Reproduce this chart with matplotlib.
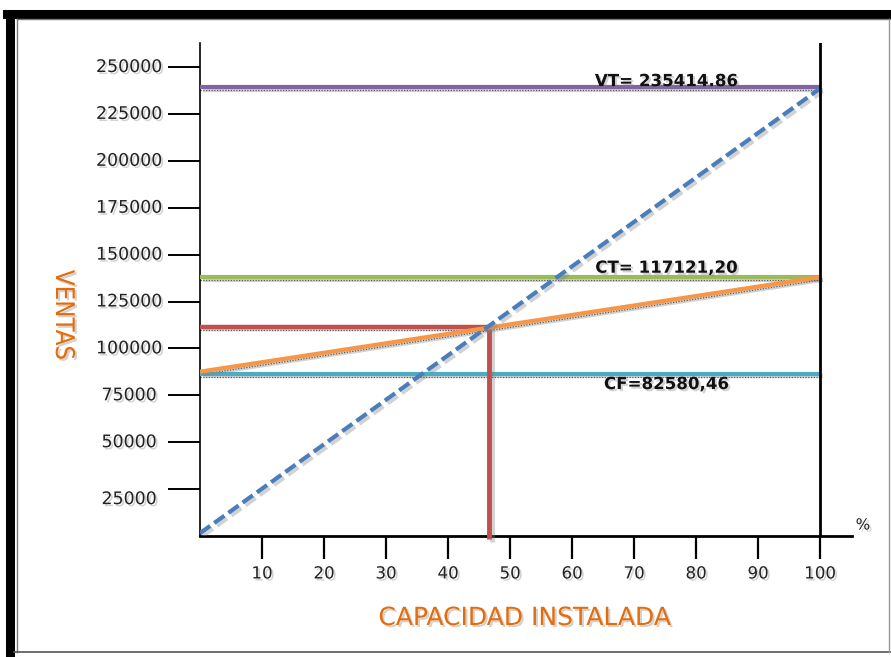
import matplotlib
matplotlib.use("Agg")
import matplotlib.pyplot as plt
import matplotlib.patheffects as pe
from matplotlib.transforms import offset_copy
from matplotlib.lines import Line2D

# ---- data ----
capacidad = [0, 100]
vt_values = [239200, 239200]
ventas_diag = [1500, 238500]
ct_values = [138100, 138100]
costo_total = [87600, 138000]
cf_values = [86600, 86600]
pe_x = 46.6
pe_y = 111600
xticks = [10, 20, 30, 40, 50, 60, 70, 80, 90, 100]
yticks = [25000, 50000, 75000, 100000, 125000, 150000, 175000, 200000, 225000, 250000]
ytick_labels = ["25000", "50000", "75000", "100000", "125000", "150000",
                "175000", "200000", "225000", "250000"]
lbl_vt = "VT= 235414.86"
lbl_ct = "CT= 117121,20"
lbl_cf = "CF=82580,46"

plt.rcParams['font.family'] = ['DejaVu Sans']

fig = plt.figure(figsize=(8.91, 6.57), dpi=100)
fig.patch.set_facecolor('white')
ax = fig.add_axes([200/891, 1-536/657, 652/891, (536-43)/657])
ax.set_xlim(0, 652/6.2)
ax.set_ylim(0, (536-43)/46.9*25000)

shadow = [pe.SimpleLineShadow(offset=(2, -2), shadow_color='gray', alpha=0.35), pe.Normal()]
tshadow = [pe.withSimplePatchShadow(offset=(1.5, -1.5), shadow_rgbFace='gray', alpha=0.35)]
dots = offset_copy(ax.transData, fig=fig, x=0, y=-3, units='dots')

def dotted(x, y, **kw):
    ax.plot(x, y, transform=dots, color='black', lw=0.9, ls=(0, (1, 1.2)), alpha=0.7, zorder=2, **kw)

# VT
dotted(capacidad, vt_values)
ax.plot(capacidad, vt_values, color='#8064A2', lw=3, zorder=3, path_effects=shadow, solid_capstyle='butt')
# CT
dotted(capacidad, ct_values)
ax.plot(capacidad, ct_values, color='#9BBB59', lw=3, zorder=3, path_effects=shadow, solid_capstyle='butt')
# CF
dotted(capacidad, cf_values)
ax.plot(capacidad, cf_values, color='#4BACC6', lw=3, zorder=3, path_effects=shadow, solid_capstyle='butt')
# red break-even lines
dotted([0, pe_x], [pe_y, pe_y])
ax.plot([0, pe_x], [pe_y, pe_y], color='#C0504D', lw=3.2, zorder=3, path_effects=shadow, solid_capstyle='butt')
ax.plot([pe_x, pe_x], [pe_y, -1500], color='#C0504D', lw=3.5, zorder=3, path_effects=shadow,
        solid_capstyle='butt', clip_on=False)
# orange total cost
dotted(capacidad, costo_total)
ax.plot(capacidad, costo_total, color='#F79646', lw=3, zorder=4, path_effects=shadow, solid_capstyle='butt')
# blue dashed sales line
ax.plot(capacidad, ventas_diag, color='#4A7EBB', lw=3, ls=(0, (3, 1.2)), zorder=5, path_effects=shadow)

# labels on lines
ax.text(75.2, 242500, lbl_vt, fontsize=12, fontweight='bold', ha='center', va='center', color='#111', path_effects=tshadow)
ax.text(75.2, 143000, lbl_ct, fontsize=12, fontweight='bold', ha='center', va='center', color='#111', path_effects=tshadow)
ax.text(75.2, 81000, lbl_cf, fontsize=12, fontweight='bold', ha='center', va='center', color='#111', path_effects=tshadow)

# axes styling
for s in ['top', 'right']:
    ax.spines[s].set_visible(False)
ax.spines['left'].set_linewidth(1.2)
ax.spines['bottom'].set_linewidth(2)
ax.axvline(100, color='black', lw=2, zorder=6)

ax.set_xticks(xticks)
ax.set_xticklabels([str(v) for v in xticks])
ax.tick_params(axis='x', direction='out', length=16.5, width=1.6, pad=4, labelsize=12, labelcolor='#222')
for t in ax.get_xticklabels():
    t.set_path_effects(tshadow)
ax.set_yticks(yticks)
ax.set_yticklabels([])
ax.tick_params(axis='y', direction='out', length=23, width=1.4)
for v, lab in zip(yticks, ytick_labels):
    dy = -10 if v == 25000 else 0
    ax.annotate(lab, xy=(0, v), xycoords=('axes fraction', 'data'), xytext=(-71, dy),
                textcoords='offset pixels', ha='center', va='center', fontsize=12.5,
                color='#222', path_effects=tshadow, annotation_clip=False)

fig.text(863/891, 1-525/657, '%', fontsize=11, ha='center', va='center', color='#222', path_effects=tshadow)

fig.text(525/891, 1-618/657, 'CAPACIDAD INSTALADA', fontsize=18, ha='center', va='center',
         color='#E46C0A', path_effects=tshadow)
fig.text(63/891, 1-315/657, 'VENTAS', fontsize=18.5, rotation=-90, ha='center', va='center',
         color='#E46C0A', fontstretch='condensed', path_effects=tshadow)

# frame
fig.add_artist(Line2D([10/891, 10/891], [0, 1-14/657], transform=fig.transFigure, color='black', lw=6.5))
fig.add_artist(Line2D([7/891, 1], [1-14/657, 1-14/657], transform=fig.transFigure, color='black', lw=6.5))
fig.add_artist(Line2D([17/891, 17/891], [1-652/657, 1-19/657], transform=fig.transFigure, color='#777', lw=1))
fig.add_artist(Line2D([17/891, 1], [1-19/657, 1-19/657], transform=fig.transFigure, color='#777', lw=1))
fig.add_artist(Line2D([14/891, 1], [1-652/657, 1-652/657], transform=fig.transFigure, color='#555', lw=1.2))
fig.add_artist(Line2D([889/891, 889/891], [1-652/657, 1-19/657], transform=fig.transFigure, color='#999', lw=1))

fig.savefig('out.png', dpi=100)
